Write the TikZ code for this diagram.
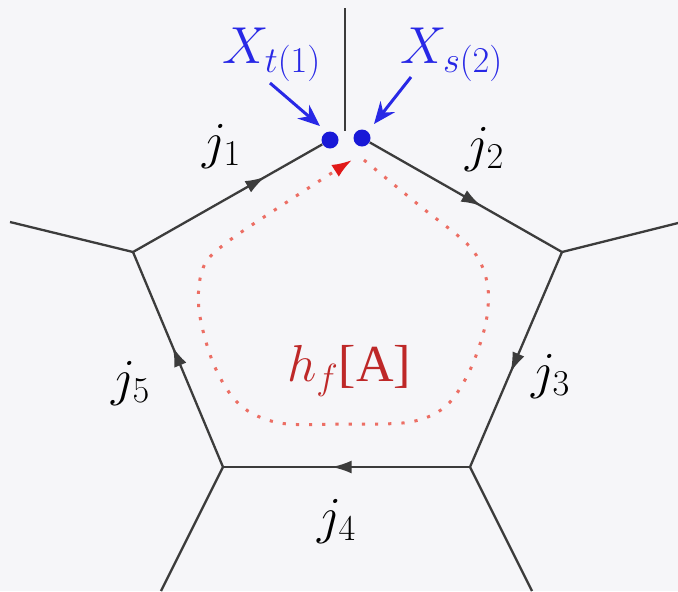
\documentclass[tikz,border=0pt]{standalone}
\usepackage{fix-cm}
\usepackage{fontspec}
\setmainfont{Liberation Serif}
\usetikzlibrary{arrows.meta,decorations.markings}
\definecolor{bg}{RGB}{246,246,249}
\definecolor{edgecol}{RGB}{60,60,60}
\definecolor{dotblue}{RGB}{25,25,215}
\definecolor{lblue}{RGB}{40,40,230}
\definecolor{pathred}{RGB}{236,110,100}
\definecolor{tipred}{RGB}{225,25,25}
\definecolor{txtred}{RGB}{190,40,40}
\begin{document}
\begin{tikzpicture}[x=0.5pt,y=-0.5pt,
  edgeline/.style={draw=edgecol,line width=1.15pt},
  midarrow/.style={postaction={decorate},decoration={markings,mark=at position #1 with {\arrow{Latex[length=10pt,width=6.5pt]}}}},
  lbl/.style={font=\fontsize{26}{30}\selectfont, inner sep=0pt},
  bdot/.style={circle,fill=dotblue,inner sep=0pt,minimum size=8.5pt},
  barrow/.style={draw=lblue,line width=1.5pt,-{Stealth[length=11pt,width=9pt]}}]
\fill[bg] (0,0) rectangle (678,591);
\useasboundingbox (0,0) rectangle (678,591);
% vertices
\coordinate (T) at (345,131);
\coordinate (L) at (133,252);
\coordinate (R) at (562,252);
\coordinate (BL) at (223,467);
\coordinate (BR) at (470,467);
% outer ends
\coordinate (OT) at (345,8);
\coordinate (OL) at (10,222);
\coordinate (OR) at (678,223);
\coordinate (OBL) at (161,591);
\coordinate (OBR) at (532,591);
% dots
\node[bdot] (D1) at (330,140) {};
\node[bdot] (D2) at (362,138) {};
% outer edges
\draw[edgeline] (OT) -- (T);
\draw[edgeline] (OL) -- (L);
\draw[edgeline] (OR) -- (R);
\draw[edgeline] (OBL) -- (BL);
\draw[edgeline] (OBR) -- (BR);
% face edges
\draw[edgeline,midarrow=0.7] (L) -- (D1);
\draw[edgeline,midarrow=0.58] (D2) -- (R);
\draw[edgeline,midarrow=0.56] (R) -- (BR);
\draw[edgeline,midarrow=0.56] (BR) -- (BL);
\draw[edgeline,midarrow=0.56] (BL) -- (L);
% labels
\node[lbl] (j1) at (222,146) {$j_1$};
\node[lbl] (j2) at (485,149) {$j_2$};
\node[lbl] (j3) at (551,376) {$j_3$};
\node[lbl] (j4) at (337,521) {$j_4$};
\node[lbl] (j5) at (131,383) {$j_5$};
\node[lbl,text=lblue] (xt) at (272,55) {$X_{t(1)}$};
\node[lbl,text=lblue] (xs) at (452,55) {$X_{s(2)}$};
\node[lbl,text=txtred] (hf) at (349,371) {$h_f$[A]};
% blue arrows
\coordinate (a1s) at (270,83);
\coordinate (a1e) at (320,126);
\coordinate (a2s) at (411,77);
\coordinate (a2e) at (374,124);
\draw[barrow] (a1s) -- (a1e);
\draw[barrow] (a2s) -- (a2e);
% red holonomy loop
\draw[pathred,line width=1.5pt,dash pattern=on 1.6pt off 5pt,
  -{Latex[length=10pt,width=7pt,color=tipred]}]
  plot[smooth,tension=0.55] coordinates {(364,160) (420,206) (470,247) (487,282) (486,322) (470,370) (446,406) (410,422) (345,424) (280,423) (240,405) (214,365) (199,310) (203,268) (226,243) (290,200) (352,160)};
\end{tikzpicture}
\end{document}
